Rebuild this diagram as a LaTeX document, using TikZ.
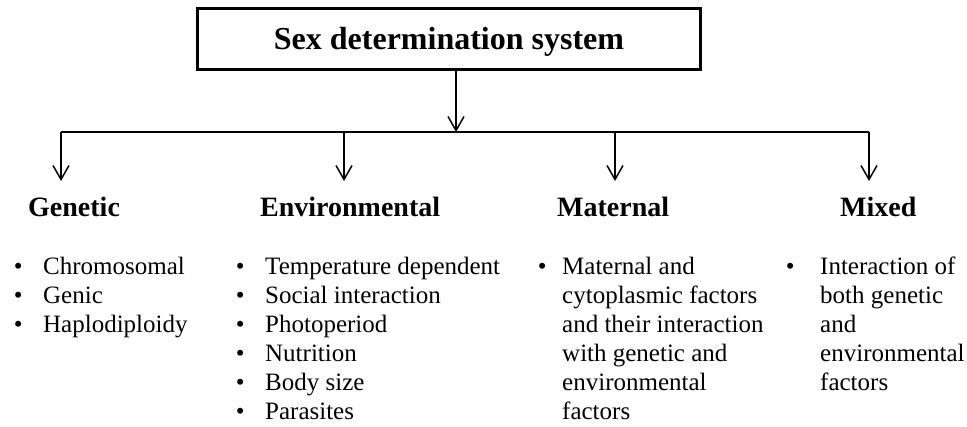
\documentclass[tikz,border=0pt]{standalone}
\usepackage{fontspec}
\setmainfont{Liberation Serif}
\usetikzlibrary{arrows.meta}
\begin{document}
\begin{tikzpicture}[x=1pt,y=-1pt,
  conn/.style={line width=1.5pt},
  arr/.style={conn,-{Straight Barb[length=14pt,width=16pt,line width=1.5pt]}},
  titlebox/.style={draw,line width=3pt,inner sep=0pt,minimum width=503pt,minimum height=60.5pt,
    text height=21pt,text depth=0pt,
    font=\fontsize{32}{38}\selectfont\bfseries},
  head/.style={font=\fontsize{28}{33}\selectfont\bfseries,anchor=base west,inner sep=0pt},
  blist/.style={font=\fontsize{25}{29}\selectfont,anchor=base west,inner sep=0pt}]
\useasboundingbox (0,0) rectangle (967,427);

\node[titlebox] (title) at (449,39.25) {Sex determination system};

\coordinate (hub) at (456,132);
\coordinate (b1) at (61,132);
\coordinate (b2) at (344,132);
\coordinate (b3) at (615,132);
\coordinate (b4) at (869,132);
\coordinate (t1) at (61,181);
\coordinate (t2) at (344,181);
\coordinate (t3) at (615,181);
\coordinate (t4) at (869,181);

\draw[arr] (title.south -| hub) -- (hub);
\draw[conn] (b1) -- (b4);
\draw[arr] (b1) -- (t1);
\draw[arr] (b2) -- (t2);
\draw[arr] (b3) -- (t3);
\draw[arr] (b4) -- (t4);

\node[head] (gen) at (28,217) {Genetic};
\node[head] (env) at (260,217) {Environmental};
\node[head] (mat) at (557,217) {Maternal};
\node[head] (mix) at (840,217) {Mixed};

\node[blist] (genl) at (13.6,275) {\begin{tabular}[t]{@{}p{29.4pt}@{}l@{}}
\textbullet & Chromosomal\\
\textbullet & Genic\\
\textbullet & Haplodiploidy
\end{tabular}};

\node[blist] (envl) at (235.6,275) {\begin{tabular}[t]{@{}p{29.4pt}@{}l@{}}
\textbullet & Temperature dependent\\
\textbullet & Social interaction\\
\textbullet & Photoperiod\\
\textbullet & Nutrition\\
\textbullet & Body size\\
\textbullet & Parasites
\end{tabular}};

\node[blist] (matl) at (537.6,275) {\begin{tabular}[t]{@{}p{24.4pt}@{}l@{}}
\textbullet & Maternal and\\
 & cytoplasmic factors\\
 & and their interaction\\
 & with genetic and\\
 & environmental\\
 & factors
\end{tabular}};

\node[blist] (mixl) at (785.6,275) {\begin{tabular}[t]{@{}p{34.4pt}@{}l@{}}
\textbullet & Interaction of\\
 & both genetic\\
 & and\\
 & environmental\\
 & factors
\end{tabular}};
\end{tikzpicture}
\end{document}
